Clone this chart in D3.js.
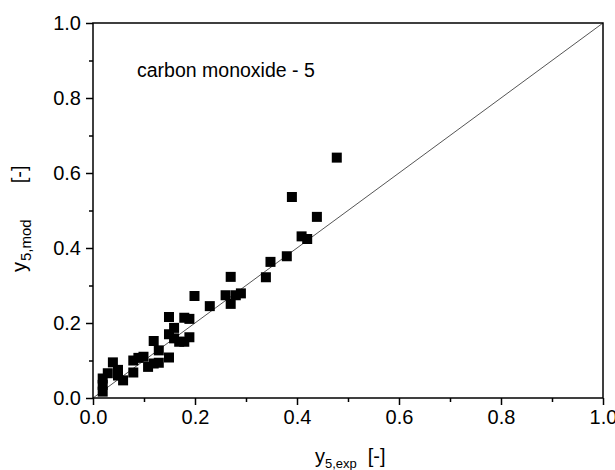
<!DOCTYPE html>
<html>
<head>
<meta charset="utf-8">
<script src="https://cdn.jsdelivr.net/npm/d3@7"></script>
<style>
  body { margin: 0; background: #fff; }
  svg { display: block; font-family: Arial, "Liberation Sans", sans-serif; }
</style>
</head>
<body>
<div id="chart"></div>
<script>
const width = 615;
const height = 470;
const margin = ({top: 23, right: 12, bottom: 72, left: 93});

const yExp = [0.019, 0.019, 0.019, 0.029, 0.039, 0.049, 0.049, 0.059, 0.079, 0.079,
  0.089, 0.099, 0.108, 0.119, 0.129, 0.119, 0.129, 0.149, 0.149, 0.149,
  0.159, 0.159, 0.169, 0.179, 0.189, 0.179, 0.189, 0.199, 0.229, 0.260,
  0.270, 0.270, 0.280, 0.290, 0.339, 0.348, 0.380, 0.390, 0.409, 0.420,
  0.439, 0.478];
const yMod = [0.017, 0.035, 0.052, 0.066, 0.095, 0.075, 0.060, 0.047, 0.068, 0.100,
  0.107, 0.110, 0.083, 0.092, 0.094, 0.152, 0.127, 0.108, 0.170, 0.216,
  0.159, 0.187, 0.150, 0.150, 0.162, 0.214, 0.211, 0.272, 0.245, 0.274,
  0.251, 0.323, 0.274, 0.279, 0.322, 0.363, 0.378, 0.536, 0.431, 0.424,
  0.483, 0.641];
const majorTicks = [0, 0.2, 0.4, 0.6, 0.8, 1.0];
const minorTicks = [0.1, 0.3, 0.5, 0.7, 0.9];
const parity = [0, 1];

const data = yExp.map((v, i) => ({x: v, y: yMod[i]}));

const x = d3.scaleLinear().domain([0, 1]).range([margin.left, width - margin.right]);
const y = d3.scaleLinear().domain([0, 1]).range([height - margin.bottom, margin.top]);

const svg = d3.select("#chart").append("svg")
  .attr("width", width)
  .attr("height", height);

// parity line
svg.append("line")
  .attr("x1", x(parity[0])).attr("y1", y(parity[0]))
  .attr("x2", x(parity[1])).attr("y2", y(parity[1]))
  .attr("stroke", "#555")
  .attr("stroke-width", 1);

// markers
const s = 10;
svg.append("g")
  .selectAll("rect")
  .data(data)
  .join("rect")
  .attr("x", d => x(d.x) - s / 2)
  .attr("y", d => y(d.y) - s / 2)
  .attr("width", s)
  .attr("height", s)
  .attr("fill", "#000");

// frame
svg.append("rect")
  .attr("x", margin.left)
  .attr("y", margin.top)
  .attr("width", width - margin.left - margin.right)
  .attr("height", height - margin.top - margin.bottom)
  .attr("fill", "none")
  .attr("stroke", "#000")
  .attr("stroke-width", 1.5);

const xAxis = g => {
  g.attr("transform", `translate(0,${height - margin.bottom})`)
    .call(d3.axisBottom(x).tickValues(majorTicks).tickFormat(d3.format(".1f")).tickSize(7).tickPadding(5))
    .call(g => g.select(".domain").remove());
  g.selectAll(".tick line").attr("stroke-width", 1.5);
  g.selectAll(".tick text").attr("font-size", 20).attr("fill", "#000");
};

const yAxis = g => {
  g.attr("transform", `translate(${margin.left},0)`)
    .call(d3.axisLeft(y).tickValues(majorTicks).tickFormat(d3.format(".1f")).tickSize(7).tickPadding(5))
    .call(g => g.select(".domain").remove());
  g.selectAll(".tick line").attr("stroke-width", 1.5);
  g.selectAll(".tick text").attr("font-size", 20).attr("fill", "#000");
};

svg.append("g").call(xAxis);
svg.append("g").call(yAxis);

// minor ticks
svg.append("g")
  .attr("transform", `translate(0,${height - margin.bottom})`)
  .call(d3.axisBottom(x).tickValues(minorTicks).tickSize(4).tickFormat(""))
  .call(g => g.select(".domain").remove())
  .selectAll(".tick line").attr("stroke-width", 1.5);
svg.append("g")
  .attr("transform", `translate(${margin.left},0)`)
  .call(d3.axisLeft(y).tickValues(minorTicks).tickSize(4).tickFormat(""))
  .call(g => g.select(".domain").remove())
  .selectAll(".tick line").attr("stroke-width", 1.5);

// annotation
svg.append("text")
  .attr("x", 137)
  .attr("y", 77)
  .attr("font-size", 19.5)
  .text("carbon monoxide - 5");

// x label
const xl = svg.append("text")
  .attr("x", 315)
  .attr("y", 463)
  .attr("font-size", 20);
xl.append("tspan").text("y");
xl.append("tspan").attr("font-size", 13).attr("dy", 5).text("5,exp");
xl.append("tspan").attr("dy", -5).attr("dx", 11).text("[-]");

// y label
const yl = svg.append("text")
  .attr("transform", `translate(26,272) rotate(-90)`)
  .attr("font-size", 20);
yl.append("tspan").text("y");
yl.append("tspan").attr("font-size", 15).attr("dy", 5).attr("dx", 1).text("5,mod");
yl.append("tspan").attr("dy", -5).attr("dx", 36).text("[-]");
</script>
</body>
</html>
